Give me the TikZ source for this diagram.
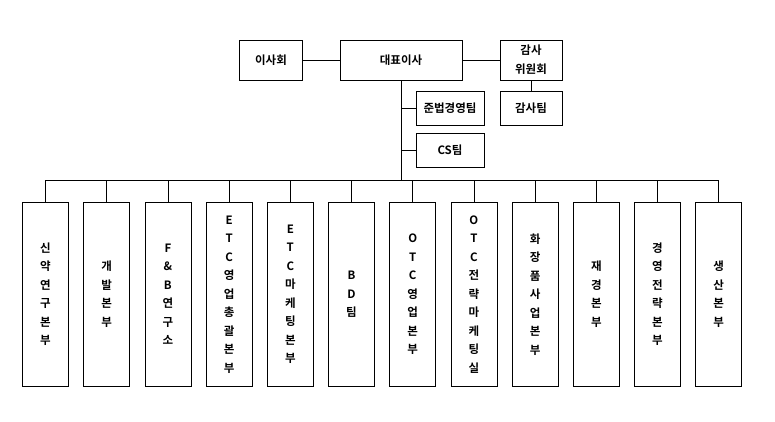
\documentclass[tikz,border=0pt]{standalone}
\usepackage{fontspec}
\setmainfont{Noto Sans CJK KR Bold}
\usetikzlibrary{positioning}
\tikzset{%
  org/.style  = {shape=rectangle, draw, thick, align=center,%
                 font=\fontsize{11.5}{13}\selectfont, inner sep=1pt},%
  head/.style = {org, minimum height=40pt},%
  team/.style = {org, minimum width=68pt, minimum height=34pt},%
  dept/.style = {org, minimum width=46pt, minimum height=184pt,%
                 font=\fontsize{11.5}{18.5}\selectfont},%
  link/.style = {draw, thick}%
}
\begin{document}
\begin{tikzpicture}[x=1pt, y=-1pt]
  \useasboundingbox (0,0) rectangle (775,422);
  % top level
  \node[head, minimum width=122pt] (ceo) at (401,60) {대표이사};
  \node[head, minimum width=63pt] (board) at (271,60) {이사회};
  \node[head, minimum width=62pt, font=\fontsize{11.5}{19}\selectfont] (audit) at (531,60) {감사\\위원회};
  \node[team, minimum width=62pt] (auditteam) at (531,108) {감사팀};
  \node[team] (comp) at (450,108) {준법경영팀};
  \node[team] (cs) at (450,150) {CS팀};
  \draw[link] (board) -- (ceo);
  \draw[link] (ceo) -- (audit);
  \draw[link] (audit) -- (auditteam);
  \coordinate (bus) at (401,180);
  \draw[link] (ceo.south) -- (bus);
  \draw[link] (comp.west) -- (comp.west -| bus);
  \draw[link] (cs.west) -- (cs.west -| bus);
  % departments
  \foreach \txt [count=\i from 0] in {%
      신\\약\\연\\구\\본\\부,개\\발\\본\\부,F\\\&\\B\\연\\구\\소,%
      E\\T\\C\\영\\업\\총\\괄\\본\\부,E\\T\\C\\마\\케\\팅\\본\\부,B\\D\\팀,%
      O\\T\\C\\영\\업\\본\\부,O\\T\\C\\전\\략\\마\\케\\팅\\실,%
      화\\장\\품\\사\\업\\본\\부,재\\경\\본\\부,경\\영\\전\\략\\본\\부,생\\산\\본\\부}{
    \node[dept, anchor=north] (d\i) at ({45.5+61.2*\i},202) {\txt};
    \draw[link] (d\i.north) -- (d\i.north |- bus);
  }
  \draw[link] (d0.north |- bus) -- (d11.north |- bus);
\end{tikzpicture}
\end{document}
